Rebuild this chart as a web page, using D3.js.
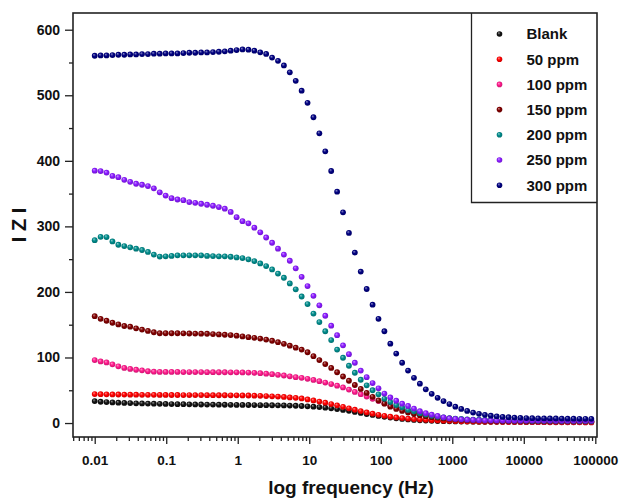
<!DOCTYPE html>
<html>
<head>
<meta charset="utf-8">
<script src="https://cdn.jsdelivr.net/npm/d3@7"></script>
<style>
  html, body { margin: 0; padding: 0; background: #fff; }
  text { font-family: Arial, "Liberation Sans", sans-serif; font-weight: bold; fill: #111; }
</style>
</head>
<body>
<svg id="chart" width="622" height="500"></svg>
<script>
// Frequency sweep (Hz), low to high
const freq = [
  0.01, 0.0121, 0.01463, 0.0177, 0.02141, 0.02591, 0.03134, 0.03791, 0.04586, 0.05548,
  0.06712, 0.0812, 0.09818, 0.1188, 0.1437, 0.1738, 0.2103, 0.2544, 0.3078, 0.3723,
  0.4503, 0.5447, 0.659, 0.7969, 0.964, 1.166, 1.411, 1.707, 2.065, 2.497,
  3.021, 3.654, 4.42, 5.347, 6.469, 7.826, 9.465, 11.45, 13.85, 16.75,
  20.27, 24.52, 29.66, 35.88, 43.4, 52.5, 63.52, 76.83, 92.94, 112.4,
  136, 164.5, 199, 240.7, 291.2, 352.3, 426.1, 515.5, 623.6, 754.3,
  912.5, 1104, 1335, 1615, 1954, 2363, 2859, 3459, 4184, 5061,
  6123, 7407, 8960, 10840, 13110, 15860, 19190, 23210, 28080, 33960,
  41080, 49700, 60120, 72730, 87980
];

// |Z| for each inhibitor concentration
const zBlank = [
  33.5, 32.5, 32, 31.5, 31, 30.7, 30.4, 30.1, 29.9, 29.7,
  29.5, 29.3, 29.1, 29, 28.8, 28.7, 28.5, 28.4, 28.3, 28.2,
  28.1, 28, 27.9, 27.8, 27.7, 27.6, 27.5, 27.4, 27.3, 27.2,
  27.1, 27, 26.9, 26.7, 26.4, 26, 25.5, 25, 24.3, 23.5,
  22.5, 21.3, 20, 18.6, 17, 15.4, 13.8, 12.3, 10.8, 9.5,
  8.3, 7.2, 6.3, 5.5, 4.8, 4.2, 3.8, 3.4, 3.1, 2.8,
  2.6, 2.4, 2.3, 2.2, 2.1, 2, 1.9, 1.9, 1.8, 1.8,
  1.8, 1.7, 1.7, 1.7, 1.7, 1.6, 1.6, 1.6, 1.6, 1.6,
  1.5, 1.5, 1.5, 1.5, 1.5
];
const z50 = [
  44.2, 44, 43.8, 43.6, 43.5, 43.4, 43.3, 43.2, 43.1, 43,
  43, 42.9, 42.9, 42.8, 42.8, 42.7, 42.7, 42.6, 42.6, 42.5,
  42.5, 42.4, 42.4, 42.3, 42.2, 42.1, 42, 41.8, 41.5, 41.2,
  40.8, 40.4, 39.8, 39.1, 38.4, 37.5, 36, 34.5, 32.8, 31,
  29, 27, 24.8, 22.5, 20.3, 18.2, 16.2, 14.3, 12.6, 11,
  9.7, 8.6, 7.6, 6.7, 6, 5.4, 4.9, 4.4, 4, 3.6,
  3.3, 3, 2.7, 2.5, 2.3, 2.1, 2, 1.9, 1.8, 1.7,
  1.6, 1.5, 1.5, 1.4, 1.4, 1.3, 1.3, 1.2, 1.2, 1.2,
  1.1, 1.1, 1.1, 1, 1
];
const z100 = [
  96, 94, 92.5, 89.5, 86.5, 84, 82.5, 81.3, 80.4, 79,
  78.3, 78, 78, 78, 78, 77.8, 77.8, 77.8, 77.8, 77.6,
  77.6, 77.5, 77.5, 77.4, 77.3, 77.2, 77, 76.6, 76, 75.3,
  74.5, 73.5, 72.5, 71.3, 70, 69, 67.5, 65.7, 63.8, 61.8,
  59.5, 57, 54.3, 51, 47.5, 44, 40.5, 37, 33.5, 30,
  27, 24, 21, 18.5, 16, 14, 12, 10.5, 9, 8,
  7, 6, 5.2, 4.6, 4.1, 3.7, 3.4, 3.1, 2.9, 2.7,
  2.5, 2.4, 2.3, 2.2, 2.1, 2, 2, 1.9, 1.9, 1.9,
  1.8, 1.8, 1.8, 1.8, 1.8
];
const z150 = [
  163, 159, 156, 153, 150.5, 148, 147, 144.5, 142.5, 140.5,
  138.5, 137, 137, 137, 137, 136.8, 136.6, 136.4, 136.3, 136.2,
  135.7, 135.2, 134.7, 134.2, 133.3, 132.2, 131, 130, 128.8, 127.3,
  125.5, 123.3, 120.8, 118, 115, 112, 108, 102, 96, 90,
  84, 77.5, 71, 64.5, 58, 52, 46, 40, 34.5, 29.5,
  25, 21.5, 18.5, 16, 13.8, 12, 10.4, 9, 7.9, 7,
  6.2, 5.5, 4.9, 4.4, 4, 3.7, 3.4, 3.2, 3, 2.9,
  2.8, 2.7, 2.6, 2.5, 2.5, 2.4, 2.4, 2.3, 2.3, 2.3,
  2.2, 2.2, 2.2, 2.2, 2.2
];
const z200 = [
  279, 284, 283.7, 277, 272, 270, 268, 266, 264, 261,
  257, 254, 254.3, 255, 255.8, 255.8, 255.8, 255.8, 255.8, 255,
  254.7, 254.3, 254.3, 253.7, 252.7, 251.7, 249.7, 247, 243.5, 239.5,
  234.4, 228, 221.6, 213, 204, 193, 181.5, 167, 154, 140,
  126.6, 112, 99.6, 87.4, 76.7, 66, 57.5, 50, 43.8, 37,
  32, 27.5, 24, 20, 17.8, 15, 13, 11, 9.6, 8.5,
  7.6, 6.8, 6.2, 5.7, 5.3, 5, 4.7, 4.5, 4.3, 4.1,
  4, 3.9, 3.8, 3.7, 3.6, 3.5, 3.5, 3.4, 3.4, 3.3,
  3.3, 3.3, 3.2, 3.2, 3.2
];
const z250 = [
  385, 384.4, 382, 377, 375, 371, 368, 365, 363.5, 361.5,
  358, 352, 347, 343, 341, 340, 337, 336, 334.5, 333,
  331.5, 329.5, 327, 322, 314, 308, 304.6, 298, 291, 283,
  275, 266, 257, 247.6, 236, 223, 209, 194, 179.5, 163.7,
  148.5, 134, 118.5, 105, 92, 80, 70, 61, 53, 45,
  39, 34, 29.5, 26, 22, 18, 15, 12.7, 10.7, 8.7,
  7, 6.2, 5.6, 5.1, 4.7, 4.4, 4.2, 4.1, 4, 3.9,
  3.9, 3.8, 3.8, 3.8, 3.7, 3.7, 3.7, 3.7, 3.6, 3.6,
  3.6, 3.6, 3.6, 3.6, 3.6
];
const z300 = [
  560.3, 560.8, 560.8, 561.3, 561.8, 561.8, 562.3, 562.3, 562.8, 562.8,
  563.4, 563.4, 563.9, 563.9, 563.9, 564.4, 564.9, 564.9, 565.4, 565.4,
  565.9, 566.4, 567, 568, 569, 570, 569.5, 568, 565.5, 563,
  557.5, 552.5, 545.5, 535, 522, 507, 488.5, 466.5, 442, 414.5,
  384.5, 353, 321.5, 290, 260, 231, 204.5, 180.5, 159, 140,
  121, 106, 92, 80, 69, 60, 51.5, 44.5, 38.5, 33.5,
  29, 25, 21.5, 18.5, 16, 14, 12.5, 11.2, 10.2, 9.4,
  8.8, 8.3, 7.9, 7.6, 7.4, 7.2, 7.1, 7, 6.9, 6.8,
  6.7, 6.6, 6.5, 6.5, 6.4
];

const seriesNames = ["Blank", "50 ppm", "100 ppm", "150 ppm", "200 ppm", "250 ppm", "300 ppm"];
const seriesColors = ["#111111", "#ff0000", "#ff1a8c", "#800000", "#008b8b", "#8a1aff", "#000080"];
const seriesValues = [zBlank, z50, z100, z150, z200, z250, z300];

const xTickValues = [0.01, 0.1, 1, 10, 100, 1000, 10000, 100000];
const xTickLabels = ["0.01", "0.1", "1", "10", "100", "1000", "10000", "100000"];
const yTickValues = [0, 100, 200, 300, 400, 500, 600];
const yMinorValues = [50, 150, 250, 350, 450, 550];

const svg = d3.select("#chart");
const frame = { left: 73, right: 597, top: 13, bottom: 437 };

const x = d3.scaleLog().domain([0.00497, 105600]).range([frame.left, frame.right]);
const y = d3.scaleLinear().domain([-21.3, 625.5]).range([frame.bottom, frame.top]);

// Sphere-like shading for the markers
const defs = svg.append("defs");
seriesColors.forEach((c, i) => {
  const g = defs.append("radialGradient")
    .attr("id", "ball" + i)
    .attr("cx", "0.5").attr("cy", "0.5").attr("r", "0.6")
    .attr("fx", "0.35").attr("fy", "0.3");
  g.append("stop").attr("offset", "0").attr("stop-color", d3.interpolateRgb(c, "#ffffff")(0.55));
  g.append("stop").attr("offset", "0.45").attr("stop-color", c);
  g.append("stop").attr("offset", "1").attr("stop-color", d3.color(c).darker(0.8));
});

// Minor ticks on the log axis: 2..9 of each decade inside the domain
const xMinor = [];
for (let d = -3; d <= 5; d++) {
  for (let k = 2; k <= 9; k++) {
    const v = k * Math.pow(10, d);
    if (v >= x.domain()[0] * 0.999 && v <= x.domain()[1]) xMinor.push(v);
  }
}

// Bottom axis
const xAxis = svg.append("g")
  .attr("transform", `translate(0,${frame.bottom})`)
  .call(d3.axisBottom(x).tickValues(xTickValues).tickSize(7).tickPadding(11)
    .tickFormat((d, i) => xTickLabels[i]));
svg.append("g")
  .attr("transform", `translate(0,${frame.bottom})`)
  .call(d3.axisBottom(x).tickValues(xMinor).tickSize(4).tickFormat(""));

// Left axis
const yAxis = svg.append("g")
  .attr("transform", `translate(${frame.left},0)`)
  .call(d3.axisLeft(y).tickValues(yTickValues).tickSize(8).tickPadding(5));
svg.append("g")
  .attr("transform", `translate(${frame.left},0)`)
  .call(d3.axisLeft(y).tickValues(yMinorValues).tickSize(4).tickFormat(""));

svg.selectAll(".domain").remove();
svg.selectAll(".tick line").attr("stroke", "#222").attr("stroke-width", 1.3);
xAxis.selectAll("text").style("font-size", "13.5px").style("font-weight", "bold").attr("fill", "#111");
yAxis.selectAll("text").style("font-size", "14px").style("font-weight", "bold").attr("fill", "#111");

// Plot frame
svg.append("rect")
  .attr("x", frame.left).attr("y", frame.top)
  .attr("width", frame.right - frame.left).attr("height", frame.bottom - frame.top)
  .attr("fill", "none").attr("stroke", "#222").attr("stroke-width", 1.6);

// Data markers
const plot = svg.append("g");
seriesValues.forEach((vals, s) => {
  plot.append("g").selectAll("circle")
    .data(vals)
    .join("circle")
    .attr("cx", (d, i) => x(freq[i]))
    .attr("cy", d => y(d))
    .attr("r", 2.9)
    .attr("fill", `url(#ball${s})`);
});

// Axis titles
svg.append("text")
  .attr("transform", `translate(26,${(frame.top + frame.bottom) / 2}) rotate(-90)`)
  .attr("text-anchor", "middle")
  .style("font-size", "20px")
  .text("I Z I");
svg.append("text")
  .attr("x", 351).attr("y", 494)
  .attr("text-anchor", "middle")
  .style("font-size", "19px")
  .text("log frequency (Hz)");

// Legend
const legend = svg.append("g");
legend.append("path")
  .attr("d", `M471.5,${frame.top} V202.5 H${frame.right}`)
  .attr("fill", "none").attr("stroke", "#222").attr("stroke-width", 1.3);
seriesNames.forEach((name, s) => {
  const cy = 34 + s * 25.2;
  legend.append("circle").attr("cx", 499.5).attr("cy", cy).attr("r", 2.8).attr("fill", `url(#ball${s})`);
  legend.append("text").attr("x", 526.5).attr("y", cy + 5.4).style("font-size", "15px").text(name);
});
</script>
</body>
</html>
